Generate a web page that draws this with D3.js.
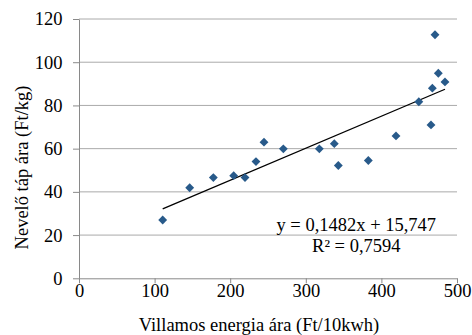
<!DOCTYPE html>
<html>
<head>
<meta charset="utf-8">
<script src="https://cdn.jsdelivr.net/npm/d3@7"></script>
<style>
  body { margin: 0; background: #fff; }
</style>
</head>
<body>
<svg></svg>
<script>
// dimensions
const width = 472;
const height = 335;
const margin = {top: 19, right: 15, bottom: 56.7, left: 79};
const font = "Liberation Serif";
const fontSize = "18.5px";

// data
const villamos = [110.7, 146.4, 177.7, 204.6, 219.6, 234.1, 244.7, 270.3, 317.9, 337.7,
                  343.0, 382.7, 419.3, 449.5, 465.6, 467.4, 470.9, 475.3, 484.1];
const nevelo   = [27.0, 41.9, 46.6, 47.5, 46.6, 54.0, 63.0, 59.9, 59.9, 62.3,
                  52.2, 54.5, 65.9, 81.7, 71.0, 88.0, 112.7, 94.9, 90.9];
const xTicks = [0, 100, 200, 300, 400, 500];
const yTicks = [0, 20, 40, 60, 80, 100, 120];
const slope = 0.1482, intercept = 15.747;
const eqText = "y = 0,1482x + 15,747";
const r2Text = "R² = 0,7594";

const svg = d3.select('svg')
    .attr('width', width)
    .attr('height', height);

const x = d3.scaleLinear().domain([0, 500]).range([margin.left, width - margin.right]);
const y = d3.scaleLinear().domain([0, 120]).range([height - margin.bottom, margin.top]);

const axisColor = "#898989";

// gridlines
svg.append("g")
  .selectAll("line")
  .data(yTicks.filter(d => d > 0))
  .join("line")
    .attr("x1", x(0)).attr("x2", x(500))
    .attr("y1", d => y(d)).attr("y2", d => y(d))
    .attr("stroke", "#aaaaaa")
    .attr("stroke-width", 1);

// y axis
const gy = svg.append("g")
    .attr("transform", `translate(${x(0)},0)`)
    .call(d3.axisLeft(y).tickValues(yTicks).tickSize(6).tickPadding(10.5).tickSizeOuter(0));
gy.select(".domain").attr("stroke", axisColor);
gy.selectAll(".tick line").attr("stroke", axisColor);
gy.selectAll(".tick text").style("font-size", fontSize).style("font-family", font).attr("fill", "#000");

// x axis
const gx = svg.append("g")
    .attr("transform", `translate(0,${y(0)})`)
    .call(d3.axisBottom(x).tickValues(xTicks).tickSize(5).tickPadding(0.5).tickSizeOuter(0));
gx.select(".domain").attr("stroke", axisColor);
gx.selectAll(".tick line").attr("stroke", axisColor);
gx.selectAll(".tick text").style("font-size", fontSize).style("font-family", font).attr("fill", "#000");

// trendline
const xMin = d3.min(villamos), xMax = d3.max(villamos);
svg.append("line")
    .attr("x1", x(xMin)).attr("y1", y(slope * xMin + intercept))
    .attr("x2", x(xMax)).attr("y2", y(slope * xMax + intercept))
    .attr("stroke", "#000")
    .attr("stroke-width", 1.3);

// points
const diamond = d3.symbol().type(d3.symbolDiamond2).size(50);
svg.append("g")
  .selectAll("path")
  .data(villamos.map((v, i) => [v, nevelo[i]]))
  .join("path")
    .attr("d", diamond)
    .attr("transform", d => `translate(${x(d[0])},${y(d[1])})`)
    .attr("fill", "#285a8a");

// helper for plain text
function label(xp, yp, txt, rot) {
  const t = svg.append("text")
      .attr("text-anchor", "middle")
      .style("font-family", font)
      .style("font-size", fontSize)
      .text(txt);
  if (rot) t.attr("transform", `translate(${xp},${yp}) rotate(-90)`);
  else t.attr("x", xp).attr("y", yp);
  return t;
}

// equation
label(356.3, 230.7, eqText);
label(356.3, 251.7, r2Text);

// axis titles
label(259, 330.7, "Villamos energia ára (Ft/10kwh)");
label(27.7, 167.5, "Nevelő táp ára (Ft/kg)", true);
</script>
</body>
</html>
